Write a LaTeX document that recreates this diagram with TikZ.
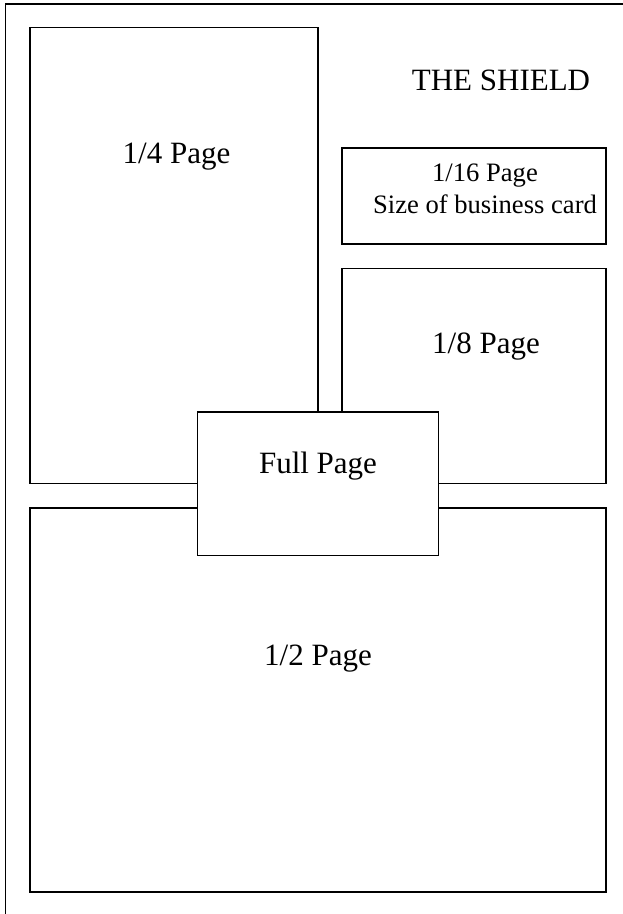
\documentclass[tikz,border=0pt]{standalone}
\usepackage{fontspec}
\setmainfont{Liberation Serif}
\begin{document}
\begin{tikzpicture}[x=1pt,y=-1pt,
  frame/.style={draw=black, line width=1.3pt},
  adbox/.style={draw=black, line width=1.3pt, fill=white},
  big/.style={font=\fontsize{31}{36}\selectfont, inner sep=0pt, anchor=base},
  small/.style={font=\fontsize{26.6}{31}\selectfont, inner sep=0pt, anchor=base}]
\useasboundingbox (0,0) rectangle (623,914);
\fill[white] (0,0) rectangle (623,914);
% outer page frame (only left and top edges in view)
\coordinate (ob) at (5.5,925);
\coordinate (ot) at (5.5,4);
\coordinate (or) at (635,4);
\draw[frame] (ob) -- (ot) -- (or);
% boxes
\draw[adbox] (30,27.5) rectangle (318,483.5) node[pos=0.5] (quarter) {};
\draw[adbox] (342,148) rectangle (606,244) node[pos=0.5] (sixteenth) {};
\draw[adbox] (342,268.3) rectangle (606,483.5) node[pos=0.5] (eighth) {};
\draw[adbox] (30,508) rectangle (606,892) node[pos=0.5] (half) {};
\draw[adbox] (197.7,412) rectangle (438.3,555.7) node[pos=0.5] (full) {};
% texts
\node[big] (title) at (501,90) {THE SHIELD};
\node[big] (tq) at (176.5,163.3) {1/4 Page};
\node[small] (ts1) at (485,181.7) {1/16 Page};
\node[small] (ts2) at (485,213.3) {Size of business card};
\node[big] (te) at (486,353) {1/8 Page};
\node[big] (tf) at (318,473) {Full Page};
\node[big] (th) at (318,665) {1/2 Page};
\end{tikzpicture}
\end{document}
